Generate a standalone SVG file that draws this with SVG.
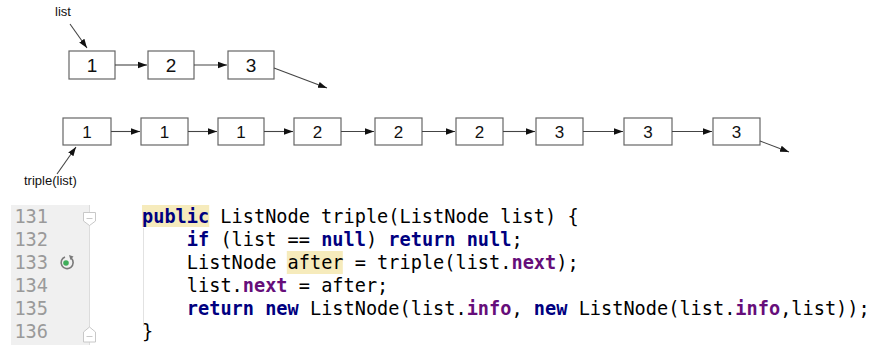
<svg xmlns="http://www.w3.org/2000/svg" width="869" height="345" viewBox="0 0 869 345">
  <style>
    .box { fill: #ffffff; stroke: #666666; stroke-width: 1.2; }
    .link { stroke: #444444; stroke-width: 1.1; fill: none; marker-end: url(#head); }
    .num { font-family: "Liberation Sans", Arial, sans-serif; fill: #111111; text-anchor: middle; }
    .top { font-size: 19px; }
    .bot { font-size: 17px; }
    .lbl { font-family: "Liberation Sans", Arial, sans-serif; font-size: 13px; fill: #111111; }
    .code { font-family: "DejaVu Sans Mono", Menlo, monospace; font-size: 18.6px; fill: #000000; }
    .ln { font-family: "DejaVu Sans Mono", Menlo, monospace; font-size: 18.6px; fill: #9a9a9a; text-anchor: end; }
    .kw { fill: #000080; font-weight: bold; }
    .fld { fill: #660e7a; font-weight: bold; }
    .hl { fill: #f6ebbc; }
  </style>
  <defs>
    <marker id="head" viewBox="0 0 10 10" refX="10" refY="5" markerWidth="9" markerHeight="9" markerUnits="userSpaceOnUse" orient="auto">
      <path d="M0,1.5 L10,5 L0,8.5 Z" fill="#111111"/>
    </marker>
  </defs>

  <rect width="869" height="345" fill="#ffffff"/>

  <!-- original list -->
  <g id="list-label"><text class="lbl" x="55" y="16">list</text></g>
  <g id="a1"><rect class="box" x="69" y="51" width="46" height="28"/><text class="num top" x="92" y="72">1</text></g>
  <g id="a2"><rect class="box" x="148" y="51" width="46" height="28"/><text class="num top" x="171" y="72">2</text></g>
  <g id="a3"><rect class="box" x="228" y="51" width="46" height="28"/><text class="num top" x="251" y="72">3</text></g>

  <!-- tripled list -->
  <g id="b1"><rect class="box" x="63" y="118" width="48" height="27"/><text class="num bot" x="87" y="138">1</text></g>
  <g id="b2"><rect class="box" x="141" y="118" width="47" height="27"/><text class="num bot" x="164.5" y="138">1</text></g>
  <g id="b3"><rect class="box" x="218" y="118" width="46" height="27"/><text class="num bot" x="241" y="138">1</text></g>
  <g id="b4"><rect class="box" x="294" y="118" width="47" height="27"/><text class="num bot" x="317.5" y="138">2</text></g>
  <g id="b5"><rect class="box" x="375" y="118" width="47" height="27"/><text class="num bot" x="398.5" y="138">2</text></g>
  <g id="b6"><rect class="box" x="456" y="118" width="47" height="27"/><text class="num bot" x="479.5" y="138">2</text></g>
  <g id="b7"><rect class="box" x="536" y="118" width="47" height="27"/><text class="num bot" x="559.5" y="138">3</text></g>
  <g id="b8"><rect class="box" x="624" y="118" width="48" height="27"/><text class="num bot" x="648" y="138">3</text></g>
  <g id="b9"><rect class="box" x="713" y="118" width="47" height="27"/><text class="num bot" x="736.5" y="138">3</text></g>
  <g id="triple-label"><text class="lbl" x="24" y="185">triple(list)</text></g>

  <g id="connectors">
    <line class="link" x1="70" y1="24" x2="87" y2="48"/>
    <line class="link" x1="115" y1="65" x2="147" y2="65"/>
    <line class="link" x1="194" y1="65" x2="227" y2="65"/>
    <line class="link" x1="274" y1="68" x2="327" y2="88"/>

    <line class="link" x1="57" y1="174" x2="76" y2="147"/>
    <line class="link" x1="111" y1="131.5" x2="140" y2="131.5"/>
    <line class="link" x1="188" y1="131.5" x2="217" y2="131.5"/>
    <line class="link" x1="264" y1="131.5" x2="293" y2="131.5"/>
    <line class="link" x1="341" y1="131.5" x2="374" y2="131.5"/>
    <line class="link" x1="422" y1="131.5" x2="455" y2="131.5"/>
    <line class="link" x1="503" y1="131.5" x2="535" y2="131.5"/>
    <line class="link" x1="583" y1="131.5" x2="623" y2="131.5"/>
    <line class="link" x1="672" y1="131.5" x2="712" y2="131.5"/>
    <line class="link" x1="760" y1="141" x2="789" y2="152"/>
  </g>

  <!-- editor gutter -->
  <rect x="11" y="205" width="78" height="140" fill="#f0f0f0"/>
  <line x1="89.5" y1="205" x2="89.5" y2="345" stroke="#dcdcdc" stroke-width="1"/>
  <path d="M83.5,212.5 H95.5 V221 L89.5,225.5 L83.5,221 Z" fill="#ffffff" stroke="#c8c8c8" stroke-width="1"/>
  <line x1="86.5" y1="218.5" x2="92.5" y2="218.5" stroke="#c8c8c8" stroke-width="1"/>
  <path d="M83.5,342 H95.5 V332 L89.5,327 L83.5,332 Z" fill="#ffffff" stroke="#c8c8c8" stroke-width="1"/>
  <line x1="86.5" y1="336.5" x2="92.5" y2="336.5" stroke="#c8c8c8" stroke-width="1"/>
  <g id="recursion-icon">
    <path d="M71.2,258.2 A6,6 0 1 1 65,257" fill="none" stroke="#7a7a7a" stroke-width="1.6"/>
    <path d="M69,255 L73.5,256.5 L70.5,260 Z" fill="#7a7a7a"/>
    <circle cx="66" cy="263" r="2.8" fill="#3fae5a"/>
  </g>

  <text class="ln" x="48" y="223">131</text>
  <text class="ln" x="48" y="246">132</text>
  <text class="ln" x="48" y="269">133</text>
  <text class="ln" x="48" y="292">134</text>
  <text class="ln" x="48" y="315">135</text>
  <text class="ln" x="48" y="338">136</text>

  <!-- code body -->
  <line x1="143.5" y1="228" x2="143.5" y2="326" stroke="#e2e2e2" stroke-width="1"/>
  <rect class="hl" x="142" y="205" width="67.2" height="22"/>
  <rect class="hl" x="286.8" y="251" width="56" height="23"/>

  <text class="code" x="142" y="223" xml:space="preserve"><tspan class="kw">public</tspan> ListNode triple(ListNode list) {</text>
  <text class="code" x="186.8" y="246" xml:space="preserve"><tspan class="kw">if</tspan> (list == <tspan class="kw">null</tspan>) <tspan class="kw">return null</tspan>;</text>
  <text class="code" x="186.8" y="269" xml:space="preserve">ListNode after = triple(list.<tspan class="fld">next</tspan>);</text>
  <text class="code" x="186.8" y="292" xml:space="preserve">list.<tspan class="fld">next</tspan> = after;</text>
  <text class="code" x="186.8" y="315" xml:space="preserve"><tspan class="kw">return new</tspan> ListNode(list.<tspan class="fld">info</tspan>, <tspan class="kw">new</tspan> ListNode(list.<tspan class="fld">info</tspan>,list));</text>
  <text class="code" x="142" y="338">}</text>
</svg>
